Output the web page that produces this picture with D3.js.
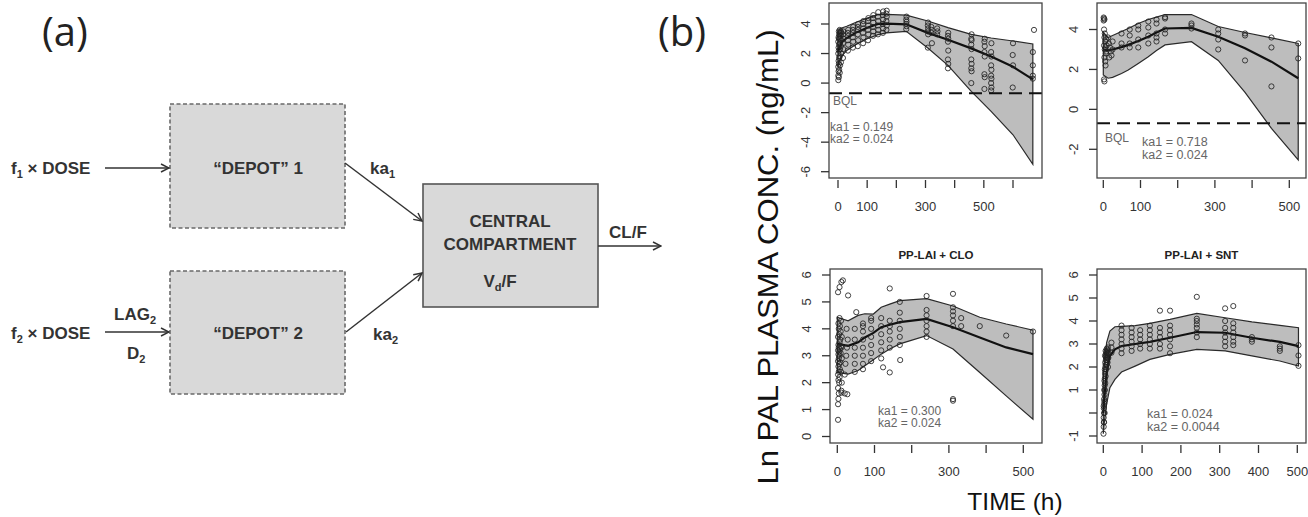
<!DOCTYPE html>
<html>
<head>
<meta charset="utf-8">
<script src="https://cdn.jsdelivr.net/npm/d3@7"></script>
<style>
  body { margin: 0; background: #fff; }
  svg { display: block; font-family: "Liberation Sans", Arial, sans-serif; }
</style>
</head>
<body>
<svg id="fig" width="1308" height="517"></svg>
<script>
// ---------------- data ----------------

// (b) top-left panel
var p1Time   = [0, 5, 15, 30, 60, 100, 137, 166, 234, 308, 377, 457, 525, 600, 668];
var p1Upper  = [3.55, 3.65, 3.75, 3.85, 4.1, 4.4, 4.63, 4.65, 4.6, 4.2, 3.75, 3.3, 3.05, 2.85, 2.65];
var p1Median = [2.1, 2.4, 2.8, 3.05, 3.4, 3.75, 4.0, 4.02, 3.98, 3.4, 2.93, 2.35, 1.8, 1.1, 0.25];
var p1Lower  = [1.1, 1.5, 1.9, 2.2, 2.6, 3.0, 3.28, 3.4, 3.5, 2.37, 1.2, -0.56, -1.92, -3.5, -5.5];
var p1Points = [
  [1,0.2],[1,0.5],[2,0.8],[1,1.1],[2,1.5],[1,2.0],[2,2.4],[1,2.8],[2,3.1],
  [3,0.4],[4,0.9],[3,1.3],[4,1.7],[3,2.2],[4,2.6],[3,3.0],[4,3.3],[3,3.5],
  [6,0.7],[7,1.2],[6,1.8],[7,2.3],[6,2.7],[7,3.0],[6,3.2],[7,3.4],[6,3.6],
  [10,1.4],[11,2.0],[10,2.5],[11,2.9],[10,3.2],[11,3.4],[10,3.5],
  [17,1.7],[18,2.3],[17,2.7],[18,3.0],[17,3.3],[18,3.5],
  [34,2.2],[35,2.6],[34,2.9],[35,3.2],[34,3.4],[35,3.6],
  [51,2.4],[52,2.8],[51,3.1],[52,3.4],[51,3.6],[52,3.8],
  [68,2.5],[69,2.9],[68,3.3],[69,3.6],[68,3.8],[69,4.0],
  [86,2.7],[87,3.1],[86,3.4],[87,3.7],[86,4.0],[87,4.2],
  [103,2.9],[104,3.3],[103,3.6],[104,3.9],[103,4.2],[104,4.4],
  [120,3.2],[121,3.5],[120,3.8],[121,4.1],[120,4.4],[121,4.6],
  [137,3.3],[138,3.6],[137,3.9],[138,4.2],[137,4.5],[138,4.8],
  [154,3.4],[155,3.7],[154,4.0],[155,4.3],[154,4.6],[155,4.85],
  [166,3.6],[167,3.9],[166,4.2],[167,4.5],[166,4.7],[167,4.9],
  [234,3.65],[235,3.85],[234,4.0],[235,4.15],[234,4.3],[235,4.5],
  [308,2.4],[309,3.3],[308,3.5],[309,3.7],[308,3.9],[309,4.1],
  [322,2.7],[320,3.4],[321,3.6],[320,3.8],
  [340,3.3],[341,3.5],[340,3.7],
  [377,1.0],[378,1.3],[377,1.6],[378,2.2],[377,2.8],[378,3.0],[377,3.2],[378,3.4],
  [457,0.0],[458,0.8],[457,1.0],[458,1.3],[457,1.6],[458,2.3],[457,2.6],[458,2.9],[457,3.0],[458,3.3],
  [502,-0.4],[503,0.4],[502,0.6],[503,1.8],[502,2.1],[503,2.5],[502,2.8],[503,3.0],
  [525,-0.5],[526,-0.3],[525,0.0],[526,0.3],[525,0.5],[526,0.9],[525,1.2],[526,1.8],[525,2.1],[526,2.7],
  [599,-0.3],[600,1.2],[599,1.9],[600,2.7],
  [668,0.3],[668,0.5],[668,1.2],[668,2.1],[672,3.6]
];
var p1XTicks = [0, 100, 200, 300, 400, 500, 600];
var p1XLabels = ["0", "100", "", "300", "", "500", ""];
var p1YTicks = [-6, -4, -2, 0, 2, 4];
var p1YLabels = ["-6", "-4", "-2", "0", "2", "4"];
var p1Notes = ["ka1 = 0.149", "ka2 = 0.024"];

// (b) top-right panel
var p2Time   = [0, 13, 25, 49, 67, 94, 121, 143, 166, 237, 309, 381, 452, 524];
var p2Upper  = [3.85, 3.6, 3.7, 3.9, 4.05, 4.3, 4.5, 4.62, 4.75, 4.75, 4.15, 3.85, 3.58, 3.3];
var p2Median = [3.0, 2.95, 3.0, 3.12, 3.23, 3.42, 3.64, 3.85, 4.05, 4.08, 3.64, 3.06, 2.39, 1.56];
var p2Lower  = [1.72, 1.56, 1.6, 1.8, 1.97, 2.3, 2.64, 2.95, 3.23, 3.39, 2.45, 0.85, -0.95, -2.53];
var p2Points = [
  [1,4.6],[2,4.55],[3,4.5],[1,4.45],[2,4.0],[4,3.8],[3,3.6],[5,3.4],[2,3.2],[6,3.1],
  [4,3.0],[7,2.8],[3,2.6],[5,2.4],[6,2.2],[2,1.5],[3,1.4],[8,3.5],[8,2.9],[9,3.2],
  [13,3.6],[15,3.3],[18,3.1],[20,2.9],[22,2.7],[16,2.6],[25,3.4],[25,3.0],
  [49,3.8],[49,3.3],[49,3.1],
  [71,4.0],[71,3.7],[71,3.3],[71,3.1],
  [94,4.2],[94,4.0],[94,3.5],[94,3.1],
  [121,4.4],[121,4.1],[121,3.7],[121,3.3],
  [143,4.5],[143,4.3],[143,3.8],[143,3.6],[143,3.4],
  [166,4.62],[166,4.55],[166,4.0],[166,3.8],
  [237,4.3],[237,4.2],[237,4.05],
  [309,4.0],[309,3.8],[309,3.5],[309,3.0],
  [381,3.8],[381,3.7],[381,2.45],
  [452,3.6],[452,3.1],[452,1.15],
  [524,3.3],[524,2.55]
];
var p2XTicks = [0, 100, 200, 300, 400, 500];
var p2XLabels = ["0", "100", "", "300", "", "500"];
var p2YTicks = [-2, 0, 2, 4];
var p2YLabels = ["-2", "0", "2", "4"];
var p2Notes = ["ka1 = 0.718", "ka2 = 0.024"];

// (b) bottom-left panel: PP-LAI + CLO
var p3Time   = [0, 29, 56, 74, 97, 118, 141, 168, 240, 311, 383, 454, 526];
var p3Upper  = [4.43, 4.3, 4.5, 4.56, 4.55, 4.8, 4.92, 5.05, 5.12, 4.85, 4.43, 4.18, 3.95];
var p3Median = [3.44, 3.37, 3.5, 3.68, 3.85, 4.06, 4.15, 4.25, 4.37, 4.06, 3.68, 3.31, 3.06];
var p3Lower  = [2.38, 2.32, 2.45, 2.63, 2.85, 3.06, 3.25, 3.44, 3.75, 3.25, 2.38, 1.51, 0.64];
var p3Points = [
  [2,1.2],[3,1.4],[4,1.6],[2,1.8],[5,2.0],[3,2.1],[6,2.2],[2,2.3],[4,2.4],[7,2.5],
  [3,2.6],[5,2.7],[8,2.75],[2,2.8],[4,2.9],[6,3.0],[3,3.05],[9,3.1],[5,3.15],[2,3.2],
  [7,3.25],[4,3.3],[10,3.35],[3,3.4],[6,3.5],[8,3.6],[2,3.7],[5,3.8],[9,3.9],[4,4.0],
  [7,4.1],[3,4.2],[10,4.3],[6,4.4],[11,1.7],[12,2.0],[10,2.4],[12,2.9],[11,3.3],[12,3.7],
  [2,5.36],[11,5.74],[15,5.8],[6,5.55],[29,5.24],[2,0.62],[11,1.63],
  [20,2.3],[22,2.7],[24,3.0],[26,3.3],[28,3.6],[25,4.0],[20,1.6],[27,1.57],
  [47,2.4],[47,2.7],[47,3.0],[47,3.3],[47,3.6],[47,4.0],[51,4.62],
  [69,2.5],[69,2.7],[69,3.0],[69,3.3],[69,3.6],[69,3.9],[69,4.1],[69,4.2],
  [91,2.8],[91,3.1],[91,3.4],[91,3.7],[91,4.0],[91,4.3],[91,4.4],
  [118,2.9],[118,3.2],[118,3.5],[118,3.8],[118,4.1],[118,4.4],[123,2.57],
  [141,3.3],[141,3.6],[141,3.9],[141,4.1],[141,4.3],[141,2.38],[141,5.5],
  [168,3.4],[168,3.7],[168,4.0],[168,4.3],[168,4.6],[168,5.0],[169,2.84],
  [240,3.7],[240,3.9],[240,4.1],[240,4.3],[240,4.5],[240,4.7],[240,5.22],
  [311,4.1],[311,4.3],[311,4.5],[311,4.65],[311,4.8],[311,5.3],[311,1.39],[311,1.33],
  [333,4.1],[333,4.4],
  [383,4.1],[454,3.75],[526,3.9]
];
var p3XTicks = [0, 100, 200, 300, 400, 500];
var p3XLabels = ["0", "100", "", "300", "", "500"];
var p3YTicks = [0, 1, 2, 3, 4, 5, 6];
var p3YLabels = ["0", "1", "2", "3", "4", "5", "6"];
var p3Notes = ["ka1 = 0.300", "ka2 = 0.024"];

// (b) bottom-right panel: PP-LAI + SNT
var p4Time   = [0, 2.6, 8.6, 17, 30, 47, 82, 120, 172, 241, 314, 383, 455, 503];
var p4Upper  = [1.6, 2.04, 3.06, 3.56, 3.75, 3.77, 3.8, 3.9, 4.07, 4.33, 4.14, 3.96, 3.81, 3.71];
var p4Median = [0.0, 0.6, 1.75, 2.48, 2.77, 2.91, 3.0, 3.09, 3.27, 3.52, 3.49, 3.27, 3.09, 2.91];
var p4Lower  = [-0.9, -0.42, 0.4, 1.1, 1.46, 1.78, 2.04, 2.33, 2.55, 2.77, 2.7, 2.48, 2.26, 2.04];
var p4Points = [
  [0.5,-0.9],[1,-0.6],[1.5,-0.4],[1,-0.2],[2,0.0],[1.5,0.2],[2.5,0.4],[2,0.6],[3,0.8],[2.5,1.0],
  [3.5,1.2],[3,1.4],[4,1.5],[4.5,1.7],[5,1.8],[4,1.9],[5.5,2.0],[6,2.1],[5,2.2],[6.5,2.3],
  [7,2.4],[6,2.45],[8,2.5],[7.5,2.55],[9,2.6],[8,2.65],[10,2.7],[11,2.75],[9,2.8],[12,2.6],
  [10,2.4],[11,2.2],[12,2.0],[7,1.9],[8,2.1],[9,2.3],[6,1.6],[5,1.3],[4,1.0],[3,0.5],
  [2,-0.4],[1,0.3],[3.5,0.0],[4.5,2.5],[6,2.7],[12,2.85],[13,2.4],[14,2.6],
  [21,3.06],[21,2.85],[21,2.62],
  [47,2.6],[47,2.8],[47,3.0],[47,3.2],[47,3.4],[47,3.6],[47,3.8],
  [73,2.7],[73,2.9],[73,3.1],[73,3.3],[73,3.5],[73,3.7],
  [95,2.8],[95,3.0],[95,3.2],[95,3.4],[95,3.6],
  [120,2.8],[120,3.0],[120,3.2],[120,3.4],[120,3.6],[120,3.8],
  [146,2.8],[146,3.0],[146,3.3],[146,3.5],[146,3.7],[146,4.45],
  [172,2.6],[172,2.9],[172,3.2],[172,3.4],[172,3.6],[172,3.8],[172,4.45],
  [241,3.3],[241,3.5],[241,3.7],[241,3.85],[241,4.0],[241,4.1],[241,5.05],
  [314,2.9],[314,3.1],[314,3.3],[314,3.5],[314,3.7],[314,4.0],[314,4.55],
  [335,2.95],[335,3.1],[335,3.3],[335,3.5],[335,3.7],[335,3.9],[335,4.65],
  [383,3.1],[383,3.2],[383,3.3],
  [455,2.7],[455,2.8],[455,2.9],
  [503,2.95],[503,2.5],[503,2.05]
];
var p4XTicks = [0, 100, 200, 300, 400, 500];
var p4XLabels = ["0", "100", "200", "300", "400", "500"];
var p4YTicks = [-1, 0, 1, 2, 3, 4, 5, 6];
var p4YLabels = ["-1", "", "1", "2", "3", "4", "5", "6"];
var p4Notes = ["ka1 = 0.024", "ka2 = 0.0044"];

var bqlLevel = -0.69;
var panelTitles = ["", "", "PP-LAI + CLO", "PP-LAI + SNT"];

// ---------------- drawing ----------------

var svg = d3.select("#fig");
svg.append("rect").attr("width", 1308).attr("height", 517).attr("fill", "#fff");

var defs = svg.append("defs");
defs.append("marker")
    .attr("id", "arr")
    .attr("viewBox", "0 0 10 10")
    .attr("refX", 9).attr("refY", 5)
    .attr("markerWidth", 10).attr("markerHeight", 10)
    .attr("markerUnits", "userSpaceOnUse")
    .attr("orient", "auto")
  .append("path")
    .attr("d", "M1,1 L9,5 L1,9")
    .attr("fill", "none")
    .attr("stroke", "#333")
    .attr("stroke-width", 1.5);

// ---- panel (a): compartment diagram ----
var dia = svg.append("g").attr("fill", "#333").attr("font-weight", "bold").attr("font-size", 17);

svg.append("text").attr("x", 42).attr("y", 46)
    .attr("font-family", "'Open Sans', 'Noto Sans', sans-serif")
    .attr("font-size", 40).attr("fill", "#222").text("(a)");
svg.append("text").attr("x", 658).attr("y", 46)
    .attr("font-family", "'Open Sans', 'Noto Sans', sans-serif")
    .attr("font-size", 40).attr("fill", "#222").text("(b)");

function box(x, y, w, h, dashed) {
  dia.append("rect")
      .attr("x", x).attr("y", y).attr("width", w).attr("height", h)
      .attr("fill", "#d9d9d9")
      .attr("stroke", dashed ? "#6a6a6a" : "#555")
      .attr("stroke-width", 1.6)
      .attr("stroke-dasharray", dashed ? "4,2.5" : null);
}
function arrow(x1, y1, x2, y2) {
  dia.append("line")
      .attr("x1", x1).attr("y1", y1).attr("x2", x2).attr("y2", y2)
      .attr("stroke", "#333").attr("stroke-width", 1.5)
      .attr("marker-end", "url(#arr)");
}
// text with one subscript: parts = [before, sub, after]
function subText(x, y, parts, anchor) {
  var t = dia.append("text").attr("x", x).attr("y", y).attr("text-anchor", anchor || "start");
  t.append("tspan").text(parts[0]);
  t.append("tspan").attr("font-size", 11).attr("dy", 4).text(parts[1]);
  if (parts[2]) t.append("tspan").attr("dy", -4).text(parts[2]);
  return t;
}

box(170, 104, 175, 124, true);
box(170, 271, 175, 123, true);
box(423, 184, 175, 123, false);

arrow(105, 168, 169, 168);
arrow(105, 332, 169, 332);
arrow(345, 163, 422, 221);
arrow(346, 332, 422, 273);
arrow(598, 246, 661, 246);

subText(11, 174, ["f", "1", " \u00d7 DOSE"]);
subText(11, 339, ["f", "2", " \u00d7 DOSE"]);
subText(114, 320, ["LAG", "2"]);
subText(127, 359, ["D", "2"]);
dia.append("text").attr("x", 258).attr("y", 174).attr("text-anchor", "middle").text("\u201cDEPOT\u201d 1");
dia.append("text").attr("x", 258).attr("y", 339).attr("text-anchor", "middle").text("\u201cDEPOT\u201d 2");
subText(370, 174, ["ka", "1"]);
subText(373, 340, ["ka", "2"]);
dia.append("text").attr("x", 510).attr("y", 227).attr("text-anchor", "middle").text("CENTRAL");
dia.append("text").attr("x", 510).attr("y", 250).attr("text-anchor", "middle").text("COMPARTMENT");
subText(500, 287, ["V", "d", "/F"], "middle");
dia.append("text").attr("x", 609).attr("y", 238).text("CL/F");

// ---- panel (b): four VPC plots ----
var panels = [
  { frame: [829, 1042, 3, 178], xd: [0, 600], xr: [838, 1013], yd: [-6, 4], yr: [171.7, 24],
    time: p1Time, upper: p1Upper, median: p1Median, lower: p1Lower, pts: p1Points,
    xTicks: p1XTicks, xLabels: p1XLabels, yTicks: p1YTicks, yLabels: p1YLabels,
    bql: true, bqlPos: [833, 105], notes: p1Notes, notePos: [830, 131, 12], noteSize: 12 },
  { frame: [1097, 1306, 3, 178], xd: [0, 500], xr: [1103.3, 1289.3], yd: [-2, 4], yr: [149.3, 29.5],
    time: p2Time, upper: p2Upper, median: p2Median, lower: p2Lower, pts: p2Points,
    xTicks: p2XTicks, xLabels: p2XLabels, yTicks: p2YTicks, yLabels: p2YLabels,
    bql: true, bqlPos: [1105, 142], notes: p2Notes, notePos: [1142, 146, 13], noteSize: 12.5 },
  { frame: [830, 1042, 269, 443], xd: [0, 500], xr: [837.3, 1023.3], yd: [0, 6], yr: [436.5, 275],
    time: p3Time, upper: p3Upper, median: p3Median, lower: p3Lower, pts: p3Points,
    xTicks: p3XTicks, xLabels: p3XLabels, yTicks: p3YTicks, yLabels: p3YLabels,
    bql: false, notes: p3Notes, notePos: [878, 415, 12], noteSize: 12 },
  { frame: [1097, 1306, 269, 443], xd: [0, 500], xr: [1103.3, 1297.3], yd: [-1, 6], yr: [436, 275],
    time: p4Time, upper: p4Upper, median: p4Median, lower: p4Lower, pts: p4Points,
    xTicks: p4XTicks, xLabels: p4XLabels, yTicks: p4YTicks, yLabels: p4YLabels,
    bql: false, notes: p4Notes, notePos: [1147, 418, 12.5], noteSize: 12.5 }
];

panels.forEach(function (p, i) {
  var x = d3.scaleLinear().domain(p.xd).range(p.xr);
  var y = d3.scaleLinear().domain(p.yd).range(p.yr);
  var f = p.frame;
  var g = svg.append("g");

  var band = p.time.map(function (t, k) { return { t: t, lo: p.lower[k], hi: p.upper[k], md: p.median[k] }; });

  // prediction interval
  g.append("path")
      .datum(band)
      .attr("d", d3.area().x(function (d) { return x(d.t); })
                          .y0(function (d) { return y(d.lo); })
                          .y1(function (d) { return y(d.hi); }))
      .attr("fill", "#bdbdbd")
      .attr("stroke", "#2a2a2a")
      .attr("stroke-width", 1.2);

  // median
  g.append("path")
      .datum(band)
      .attr("d", d3.line().x(function (d) { return x(d.t); }).y(function (d) { return y(d.md); }))
      .attr("fill", "none")
      .attr("stroke", "#111")
      .attr("stroke-width", 2.2);

  // observations
  g.selectAll("circle.obs")
      .data(p.pts)
    .enter().append("circle")
      .attr("class", "obs")
      .attr("cx", function (d) { return x(d[0]); })
      .attr("cy", function (d) { return y(d[1]); })
      .attr("r", 2.6)
      .attr("fill", "none")
      .attr("stroke", "#222")
      .attr("stroke-opacity", 0.85)
      .attr("stroke-width", 1);

  if (p.bql) {
    g.append("line")
        .attr("x1", f[0]).attr("x2", f[1])
        .attr("y1", y(bqlLevel)).attr("y2", y(bqlLevel))
        .attr("stroke", "#111").attr("stroke-width", 2)
        .attr("stroke-dasharray", "13,7");
    g.append("text")
        .attr("x", p.bqlPos[0]).attr("y", p.bqlPos[1])
        .attr("font-size", 12).attr("fill", "#666").text("BQL");
  }

  p.notes.forEach(function (s, k) {
    g.append("text")
        .attr("x", p.notePos[0]).attr("y", p.notePos[1] + k * p.notePos[2])
        .attr("font-size", p.noteSize).attr("fill", "#666").text(s);
  });

  // frame
  g.append("rect")
      .attr("x", f[0]).attr("y", f[2])
      .attr("width", f[1] - f[0]).attr("height", f[3] - f[2])
      .attr("fill", "none").attr("stroke", "#444").attr("stroke-width", 1.3);

  // x axis
  p.xTicks.forEach(function (t, k) {
    g.append("line")
        .attr("x1", x(t)).attr("x2", x(t))
        .attr("y1", f[3] + 2).attr("y2", f[3] + 10)
        .attr("stroke", "#333").attr("stroke-width", 1.3);
    if (p.xLabels[k]) {
      g.append("text")
          .attr("x", x(t)).attr("y", f[3] + 33)
          .attr("text-anchor", "middle")
          .attr("font-size", 13).attr("fill", "#333")
          .text(p.xLabels[k]);
    }
  });

  // y axis (labels parallel to the axis)
  p.yTicks.forEach(function (v, k) {
    g.append("line")
        .attr("x1", f[0] - 8).attr("x2", f[0])
        .attr("y1", y(v)).attr("y2", y(v))
        .attr("stroke", "#333").attr("stroke-width", 1.3);
    if (p.yLabels[k]) {
      g.append("text")
          .attr("transform", "translate(" + (f[0] - 19) + "," + y(v) + ") rotate(-90)")
          .attr("text-anchor", "middle")
          .attr("font-size", 13).attr("fill", "#333")
          .text(p.yLabels[k]);
    }
  });

  if (panelTitles[i]) {
    g.append("text")
        .attr("x", (f[0] + f[1]) / 2).attr("y", f[2] - 10)
        .attr("text-anchor", "middle")
        .attr("font-size", 11.5).attr("font-weight", "bold").attr("fill", "#222")
        .text(panelTitles[i]);
  }
});

// shared axis titles
svg.append("text")
    .attr("transform", "translate(778,257) rotate(-90)")
    .attr("text-anchor", "middle")
    .attr("font-size", 30).attr("fill", "#111")
    .attr("textLength", 455).attr("lengthAdjust", "spacingAndGlyphs")
    .text("Ln PAL PLASMA CONC. (ng/mL)");
svg.append("text")
    .attr("x", 1015).attr("y", 510)
    .attr("text-anchor", "middle")
    .attr("font-size", 24.5).attr("fill", "#111")
    .text("TIME (h)");
</script>
</body>
</html>
